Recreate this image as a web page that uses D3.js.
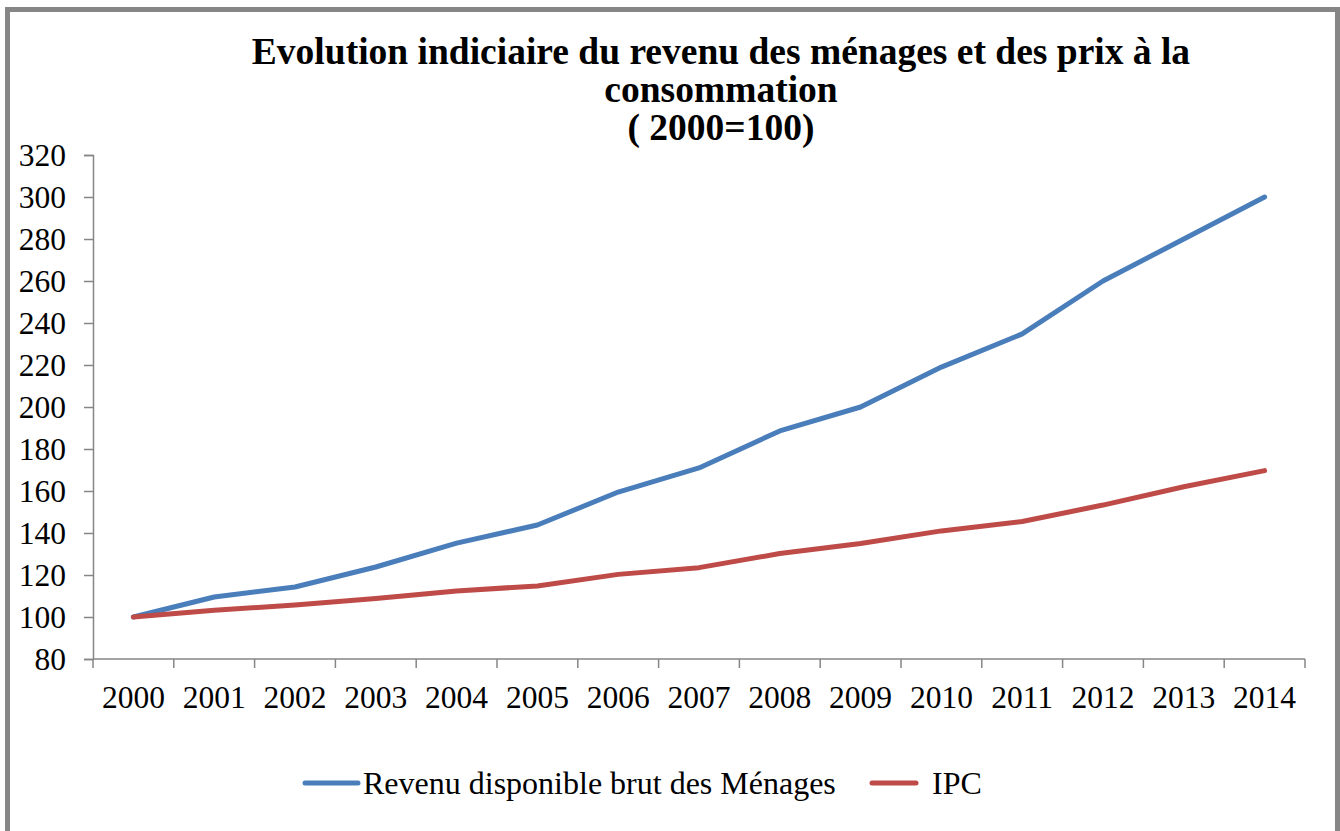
<!DOCTYPE html>
<html lang="fr">
    <head>
        <title>Evolution indiciaire du revenu des ménages</title>
        <meta charset="utf-8" />
        <script src="https://d3js.org/d3.v7.min.js"></script>
        <style>
            body {
                margin: 0;
                background: #fff;
            }
            text {
                font-family: "Liberation Serif", "Times New Roman", serif;
            }
        </style>
    </head>
    <body>
        <div id="chart"></div>

        <script>
            // data
            var years = ["2000", "2001", "2002", "2003", "2004", "2005", "2006", "2007",
                "2008", "2009", "2010", "2011", "2012", "2013", "2014"];
            var revenu = [100, 109.5, 114.3, 123.8, 135.2, 143.8, 159.5, 171, 188.6,
                200, 219, 234.8, 260, 280, 300];
            var ipc = [100, 103.2, 105.7, 108.8, 112.4, 114.8, 120.3, 123.5, 130.2,
                135, 141, 145.5, 153.3, 162, 169.7];
            var yTicks = [80, 100, 120, 140, 160, 180, 200, 220, 240, 260, 280, 300, 320];
            var seriesNames = ["Revenu disponible brut des Ménages", "IPC"];
            var titleLines = ["Evolution indiciaire du revenu des ménages et des prix à la",
                "consommation", "( 2000=100)"];

            var width = 1340,
                height = 831;
            var colors = ["#4a7ebb", "#be4b48"];
            var gray = "#868686";

            var svg = d3
                .select("#chart")
                .append("svg")
                .attr("width", width)
                .attr("height", height);

            // frame of the chart object (bottom edge is outside the picture)
            svg.append("path")
                .attr("d", "M7.5,845 L7.5,9.5 L1337.5,9.5 L1337.5,845")
                .attr("fill", "none")
                .attr("stroke", gray)
                .attr("stroke-width", 5);

            // title
            svg.append("text")
                .attr("text-anchor", "middle")
                .attr("font-weight", "bold")
                .attr("font-size", 37.5)
                .selectAll("tspan")
                .data(titleLines)
                .enter()
                .append("tspan")
                .attr("x", 721)
                .attr("y", (d, i) => 64 + i * 38)
                .text((d) => d);

            var x = d3.scaleBand().domain(years).range([93, 1305]).padding(0);
            var y = d3.scaleLinear().domain([80, 320]).range([659, 155]);

            // y axis
            var yAxis = svg.append("g")
                .attr("transform", "translate(93,0)")
                .call(d3.axisLeft(y).tickValues(yTicks).tickSize(9).tickPadding(18));
            yAxis.select(".domain").attr("stroke", gray).attr("stroke-width", 1.5);
            yAxis.selectAll(".tick line").attr("stroke", gray).attr("stroke-width", 1.5);
            yAxis.selectAll(".tick text")
                .attr("font-size", 31.5)
                .attr("font-family", "Liberation Serif")
                .attr("fill", "#000")
                .attr("dy", "0.34em");

            // x axis: ticks between categories, labels centred
            var xg = svg.append("g").attr("transform", "translate(0,659)");
            xg.append("line")
                .attr("x1", 93).attr("x2", 1305)
                .attr("stroke", gray).attr("stroke-width", 1.5);
            xg.selectAll(".tk")
                .data(years.concat(["end"]))
                .enter()
                .append("line")
                .attr("x1", (d, i) => (i < years.length ? x(d) : x.range()[1]))
                .attr("x2", (d, i) => (i < years.length ? x(d) : x.range()[1]))
                .attr("y1", 0).attr("y2", 9)
                .attr("stroke", gray).attr("stroke-width", 1.5);
            xg.selectAll(".lbl")
                .data(years)
                .enter()
                .append("text")
                .attr("x", (d) => x(d) + x.bandwidth() / 2)
                .attr("y", 49)
                .attr("text-anchor", "middle")
                .attr("font-size", 31.5)
                .text((d) => d);

            var line = d3.line()
                .x((d, i) => x(years[i]) + x.bandwidth() / 2)
                .y((d) => y(d));

            [revenu, ipc].forEach(function (s, k) {
                svg.append("path")
                    .datum(s)
                    .attr("d", line)
                    .attr("fill", "none")
                    .attr("stroke", colors[k])
                    .attr("stroke-width", 5)
                    .attr("stroke-linecap", "round")
                    .attr("stroke-linejoin", "round");
            });

            // legend
            var legendX = [305, 872];
            var leg = svg.selectAll(".leg")
                .data(seriesNames)
                .enter()
                .append("g")
                .attr("transform", (d, i) => "translate(" + legendX[i] + ",783)");
            leg.append("line")
                .attr("x1", 0).attr("x2", (d, i) => (i == 0 ? 53 : 44))
                .attr("stroke", (d, i) => colors[i])
                .attr("stroke-width", 5)
                .attr("stroke-linecap", "round");
            leg.append("text")
                .attr("x", (d, i) => (i == 0 ? 58 : 60))
                .attr("y", 11)
                .attr("font-size", 32)
                .text((d) => d);
        </script>
    </body>
</html>
